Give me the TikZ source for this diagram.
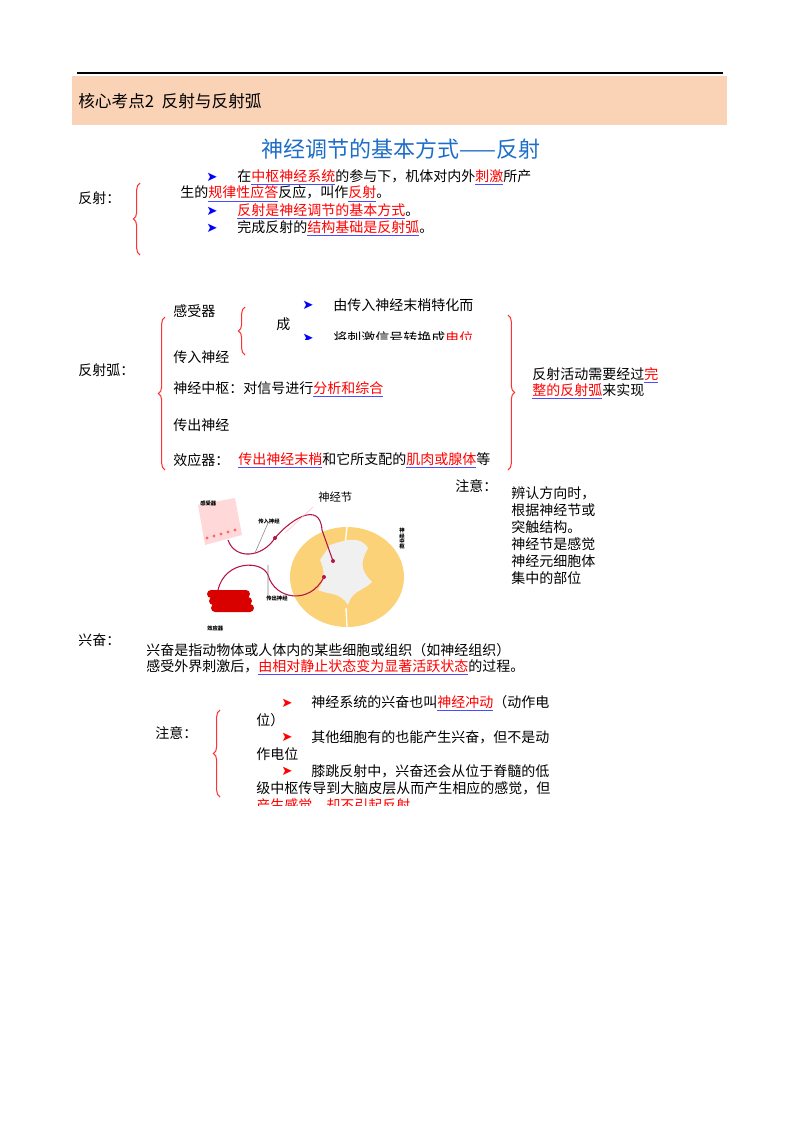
\documentclass[tikz,border=0pt]{standalone}
\usepackage{fontspec}
\setmainfont{Noto Sans CJK SC}
\newfontfamily\symfont{DejaVu Sans}
\usetikzlibrary{positioning}
\usetikzlibrary{arrows.meta}
\usetikzlibrary{decorations.pathreplacing}
\definecolor{headbg}{RGB}{250,210,182}
\definecolor{titleblue}{RGB}{30,110,200}
\definecolor{nerve}{RGB}{180,20,70}
\definecolor{cordyellow}{RGB}{252,210,120}
\newcommand{\hl}[1]{\textcolor{blue!70}{\underline{\textcolor{red}{#1}}}}
\newcommand{\barrow}{{\symfont\textcolor{blue}{\fontsize{10pt}{10pt}\selectfont ➤}}}
\newcommand{\rarrow}{{\symfont\textcolor{red}{\fontsize{10pt}{10pt}\selectfont ➤}}}
\tikzset{
  txt/.style={anchor=west, inner sep=0pt, font=\fontsize{10.5pt}{12pt}\selectfont},
  small/.style={anchor=west, inner sep=0pt, font=\fontsize{4pt}{4pt}\selectfont\bfseries},
  redbrace/.style={draw=red!80, thick, decorate, decoration={brace, amplitude=5pt}},
}
\begin{document}
\begin{tikzpicture}[x=0.75pt, y=-0.75pt]
\useasboundingbox (0,0) rectangle (800,1132);
% header
\fill[headbg] (72,76) rectangle (727,125);
\draw[line width=1.2pt] (77,73) -- (723,73);
\node[txt, font=\fontsize{12.5pt}{14pt}\selectfont] (head) at (78,101) {核心考点2\ \ 反射与反射弧};
\node[font=\fontsize{16.5pt}{18pt}\selectfont, text=titleblue, inner sep=0pt] (title) at (401,149) {神经调节的基本方式——反射};

% reflex
\node[txt] (fs) at (78,198) {反射：};
\draw[redbrace] (140,255) -- (140,183);
\node[txt] (l1a) at (206,177) {\barrow};
\node[txt] (l1) at (237,177) {在\hl{中枢神经系统}的参与下，机体对内外\hl{刺激}所产};
\node[txt] (l2) at (180,194) {生的\hl{规律性应答}反应，叫作\hl{反射}。};
\node[txt] (l3a) at (206,211) {\barrow};
\node[txt] (l3) at (237,211) {\hl{反射是神经调节的基本方式}。};
\node[txt] (l4a) at (206,228) {\barrow};
\node[txt] (l4) at (237,228) {完成反射的\hl{结构基础是反射弧}。};

% reflex arc
\node[txt] (fsh) at (78,370) {反射弧：};
\draw[redbrace] (165,470) -- (165,317);
\node[txt] (recep) at (173,311) {感受器};
\draw[redbrace] (245,355) -- (245,307);
\node[txt] (cheng) at (276,324) {成};
\node[txt] (r1a) at (302,305) {\barrow};
\node[txt] (r1) at (333,305) {由传入神经末梢特化而};
\begin{scope}
\clip (290,330) rectangle (520,339);
\node[txt] (r2a) at (302,338) {\barrow};
\node[txt] (r2) at (333,338) {将刺激信号转换成\textcolor{red}{电位}};
\end{scope}
\node[txt] (aff) at (173,357) {传入神经};
\node[txt] (cen) at (173,389) {神经中枢：对信号进行\hl{分析和综合}};
\node[txt] (eff) at (173,425) {传出神经};
\node[txt] (effr) at (173,460) {效应器：};
\node[txt] (effr2) at (238,460) {\hl{传出神经末梢}和它所支配的\hl{肌肉或腺体}等};
\draw[redbrace] (508,315) -- (508,470);
\node[txt] (need1) at (532,375) {反射活动需要经过\hl{完}};
\node[txt] (need2) at (532,391) {\hl{整的反射弧}来实现};

% note
\node[txt] (note1) at (455,486) {注意：};
\node[txt, align=left, anchor=north west, font=\fontsize{10.5pt}{12.75pt}\selectfont] (note1t) at (511,486)
  {辨认方向时，\\根据神经节或\\突触结构。\\神经节是感觉\\神经元细胞体\\集中的部位};

% figure
\fill[cordyellow] (347,577) ellipse (57 and 50);
\draw[white, line width=1pt] (347,527) -- (345,545) (347,627) -- (346,608);
\fill[gray!12] (330,545) .. controls (345,540) and (360,535) .. (368,548)
  .. controls (362,560) and (358,568) .. (372,582) .. controls (362,592) and (352,590) .. (348,605)
  .. controls (340,592) and (330,595) .. (318,590) .. controls (325,580) and (325,570) .. (320,560) -- cycle;
\fill[pink!60] (198,505) -- (235,498) -- (242,535) -- (205,545) -- cycle;
\foreach \i in {0,...,4} \fill[red!60] (207+\i*7,538-\i*2) circle (1.6);
\foreach \i in {0,1,2} \fill[red!85!black, rounded corners=3pt] (207+\i*2,590+\i*7) rectangle (250+\i*2,598+\i*7);
\coordinate (gang) at (275,538);
\coordinate (syn1) at (333,561);
\coordinate (syn2) at (324,577);
\draw[nerve, thick] (228,540) .. controls (235,560) and (262,558) .. (gang)
  .. controls (290,520) and (320,500) .. (322,530) -- (syn1);
\draw[nerve, thick] (syn2) .. controls (310,605) and (275,600) .. (268,575)
  .. controls (262,560) and (225,560) .. (218,590);
\fill[nerve] (gang) circle (2) (syn1) circle (2) (syn2) circle (2);
\draw[red!25] (285,533) -- (313,507);
\draw[gray] (255,553) -- (268,523) (268,565) -- (268,597);
\node[txt, font=\fontsize{8.5pt}{10pt}\selectfont] (gangl) at (318,497) {神经节};
\node[small] (recl) at (200,503) {感受器};
\node[small] (affl) at (258,521) {传入神经};
\node[small] (effl) at (266,598) {传出神经};
\node[small] (efrl) at (207,628) {效应器};
\node[small, align=center, anchor=north] (cenl) at (402,528) {神\\经\\中\\枢};

% excitation
\node[txt] (xf) at (78,640) {兴奋：};
\node[txt] (x1) at (146,650) {兴奋是指动物体或人体内的某些细胞或组织（如神经组织）};
\node[txt] (x2) at (146,667) {感受外界刺激后，\hl{由相对静止状态变为显著活跃状态}的过程。};
\node[txt] (note2) at (155,733) {注意：};
\draw[redbrace] (220,797) -- (220,710);
\node[txt] (n1a) at (281,703) {\rarrow};
\node[txt] (n1) at (311,703) {神经系统的兴奋也叫\hl{神经冲动}（动作电};
\node[txt] (n1b) at (256,720) {位）};
\node[txt] (n2a) at (281,737) {\rarrow};
\node[txt] (n2) at (311,737) {其他细胞有的也能产生兴奋，但不是动};
\node[txt] (n2b) at (256,754) {作电位};
\node[txt] (n3a) at (281,771) {\rarrow};
\node[txt] (n3) at (311,771) {膝跳反射中，兴奋还会从位于脊髓的低};
\node[txt] (n3b) at (256,788) {级中枢传导到大脑皮层从而产生相应的感觉，但};
\begin{scope}
\clip (250,797) rectangle (560,805);
\node[txt] (n3c) at (256,805) {\textcolor{red}{产生感觉，却不引起反射}};
\end{scope}
\end{tikzpicture}
\end{document}
